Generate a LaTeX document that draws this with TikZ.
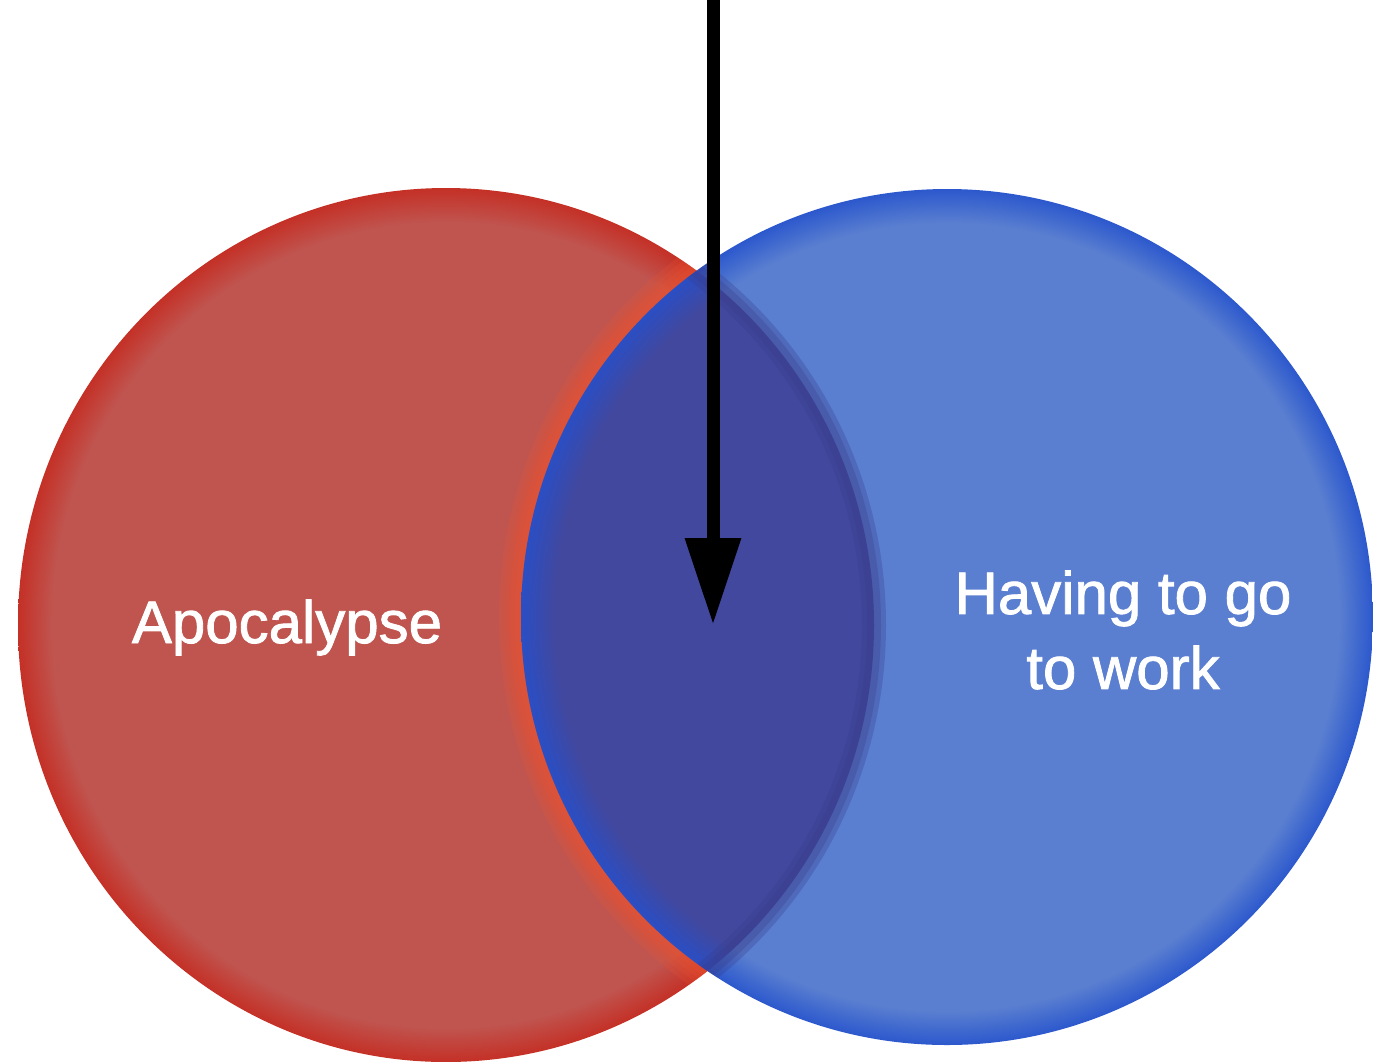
\documentclass[tikz,border=0pt]{standalone}
\usepackage{fontspec}
\setmainfont{Liberation Sans}
\newfontfamily\labelfont[FakeBold=1.4]{Liberation Sans}
\usetikzlibrary{arrows.meta}
\definecolor{redbase}{RGB}{192,85,80}
\definecolor{redrim}{RGB}{196,48,38}
\definecolor{bluebase}{RGB}{90,127,208}
\definecolor{bluerim}{RGB}{44,88,205}
\definecolor{interbase}{RGB}{66,72,158}
\definecolor{interrim}{RGB}{42,78,196}
\definecolor{glow}{RGB}{236,82,45}
\definecolor{interedge}{RGB}{56,60,138}
\pgfdeclareradialshading{redball}{\pgfpoint{0bp}{0bp}}{color(0bp)=(redbase); color(23bp)=(redbase); color(25bp)=(redrim); color(50bp)=(redrim)}
\pgfdeclareradialshading{blueball}{\pgfpoint{0bp}{0bp}}{color(0bp)=(bluebase); color(23bp)=(bluebase); color(25bp)=(bluerim); color(50bp)=(bluerim)}
\pgfdeclareradialshading{interball}{\pgfpoint{0bp}{0bp}}{color(0bp)=(interbase); color(23bp)=(interbase); color(25bp)=(interrim); color(50bp)=(interrim)}
\tikzset{
  label text/.style={text=white, font=\labelfont\fontsize{60}{75}\selectfont, align=center, inner sep=0pt},
  pointer/.style={line width=13pt, -{Triangle[width=53pt,length=87pt]}}
}
\begin{document}
\begin{tikzpicture}[x=1pt,y=-1pt]
\useasboundingbox (0,0) rectangle (1373,1061);
\fill[white] (0,0) rectangle (1373,1061);
% red set
\shade[shading=redball] (446,625) ellipse [x radius=428pt, y radius=437pt];
% blue set
\shade[shading=blueball] (947,617) ellipse [x radius=426pt, y radius=428pt];
% orange glow on red side of blue edge
\begin{scope}
  \clip (446,625) ellipse [x radius=428pt, y radius=437pt];
  \foreach \w in {44,32,22,12} {
    \draw[glow, line width=\w pt, opacity=0.22] (947,617) ellipse [x radius=426pt, y radius=428pt];
  }
\end{scope}
% intersection
\begin{scope}
  \clip (446,625) ellipse [x radius=428pt, y radius=437pt];
  \shade[shading=interball] (947,617) ellipse [x radius=426pt, y radius=428pt];
\end{scope}
% darker edge on intersection's right boundary
\begin{scope}
  \clip (947,617) ellipse [x radius=426pt, y radius=428pt];
  \foreach \w in {24,14} {
    \draw[interedge, line width=\w pt, opacity=0.3] (446,625) ellipse [x radius=428pt, y radius=437pt];
  }
\end{scope}
% labels
\node[label text, anchor=base] (apoc) at (287,643) {Apocalypse};
\node[label text, anchor=center] (work) at (1123,630) {Having to go\\to work};
% arrow
\coordinate (arrowtop) at (713,0);
\coordinate (arrowtip) at (713,625);
\draw[pointer] (arrowtop) -- (arrowtip);
\end{tikzpicture}
\end{document}
